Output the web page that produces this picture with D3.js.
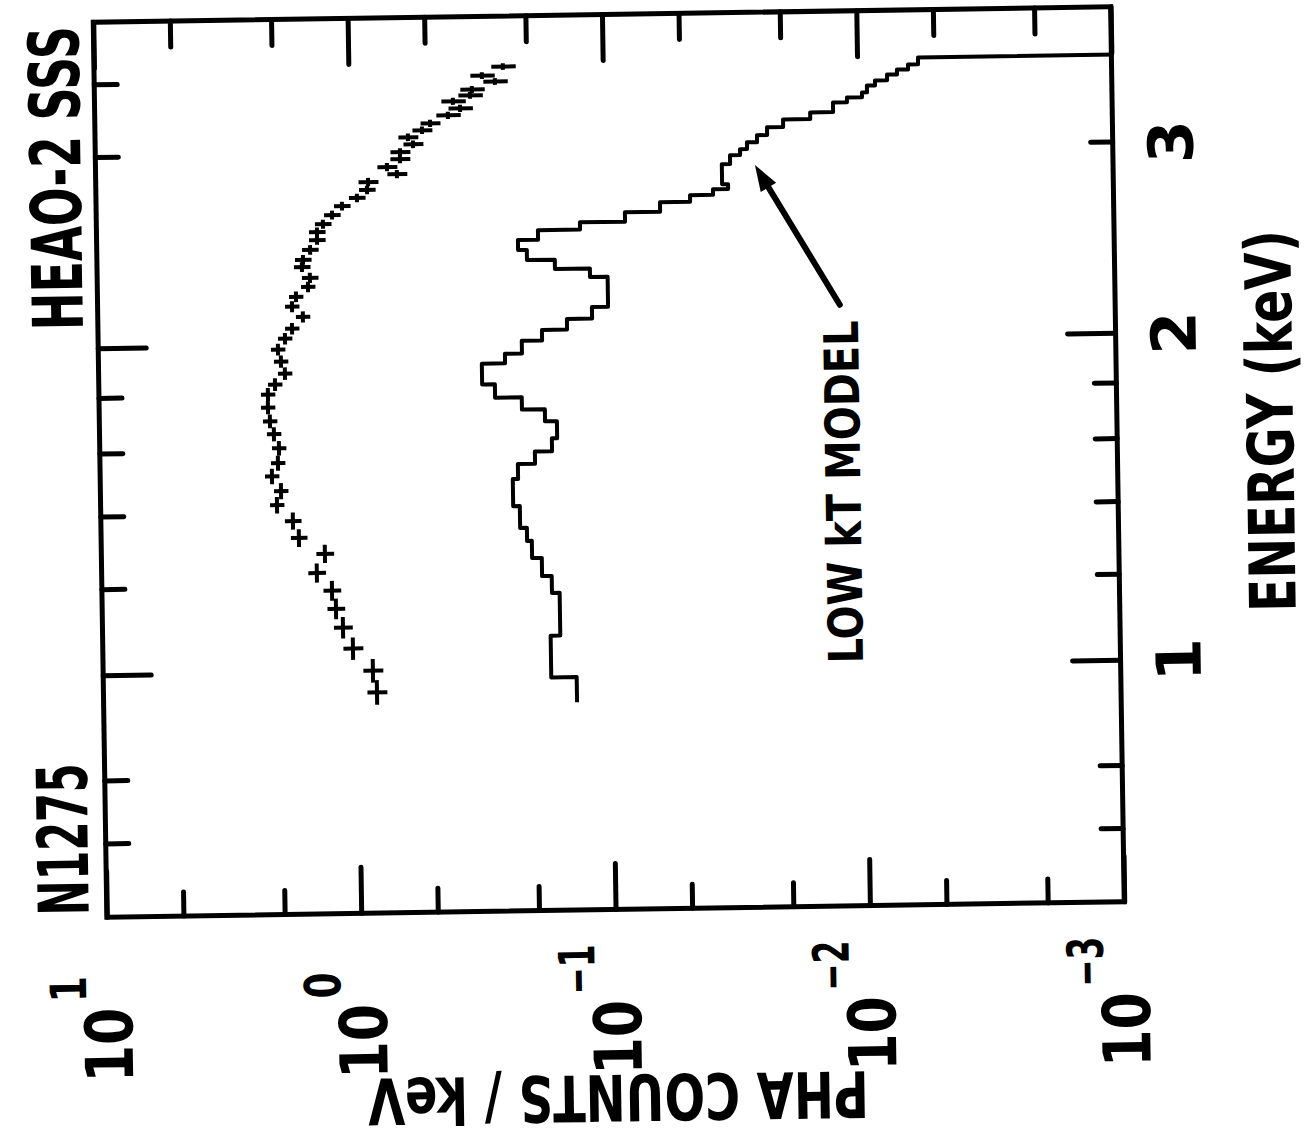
<!DOCTYPE html>
<html>
<head>
<meta charset="utf-8">
<title>N1275 HEAO-2 SSS</title>
<script src="https://cdnjs.cloudflare.com/ajax/libs/d3/7.8.5/d3.min.js"></script>
<style>
  body { margin: 0; background: #fff; }
  svg { display: block; background: #fff; }
  .axis .tick line { stroke: #000; stroke-width: 5; stroke-linecap: round; }
  .axis path.domain { display: none; }
  text.lbl { font-family: "DejaVu Sans", sans-serif; font-weight: bold; fill: #000; }
</style>
</head>
<body>
<svg width="1313" height="1141"></svg>
<script>
// measured spectrum: energy (keV), PHA counts / keV, fractional error on counts
const dataEnergy = [0.958, 1.003, 1.052, 1.100, 1.145, 1.190, 1.236, 1.287, 1.332, 1.381,
  1.429, 1.472, 1.519, 1.562, 1.612, 1.661, 1.707, 1.758, 1.807, 1.845,
  1.888, 1.937, 1.987, 2.033, 2.076, 2.128, 2.175, 2.221, 2.267, 2.311,
  2.365, 2.401, 2.452, 2.503, 2.546, 2.588, 2.638, 2.688, 2.733, 2.779,
  2.826, 2.871, 2.915, 2.963, 3.008, 3.057, 3.103, 3.148, 3.194, 3.247,
  3.294, 3.344, 3.385, 3.427, 3.483, 3.528, 3.594];
const dataCounts = [0.841, 0.870, 1.039, 1.134, 1.205, 1.246, 1.426, 1.322, 1.669, 1.758,
  2.026, 1.950, 2.112, 1.997, 1.975, 2.063, 2.135, 2.170, 2.166, 2.029,
  1.852, 1.917, 1.966, 1.842, 1.726, 1.562, 1.721, 1.658, 1.485, 1.458,
  1.565, 1.548, 1.450, 1.360, 1.359, 1.286, 1.183, 1.080, 0.942, 0.859,
  0.850, 0.654, 0.715, 0.635, 0.634, 0.563, 0.589, 0.518, 0.481, 0.409,
  0.366, 0.390, 0.334, 0.328, 0.266, 0.299, 0.247];
const dataErr = [0.09, 0.09, 0.09, 0.085, 0.08, 0.08, 0.08, 0.08, 0.075, 0.075,
  0.065, 0.065, 0.065, 0.065, 0.065, 0.065, 0.065, 0.065, 0.065, 0.065,
  0.065, 0.065, 0.065, 0.065, 0.065, 0.065, 0.065, 0.065, 0.065, 0.075,
  0.075, 0.075, 0.075, 0.075, 0.075, 0.075, 0.075, 0.075, 0.075, 0.075,
  0.09, 0.09, 0.09, 0.09, 0.09, 0.09, 0.09, 0.09, 0.09, 0.11,
  0.11, 0.11, 0.11, 0.11, 0.11, 0.11, 0.11];
const binHalf = 0.025; // half channel width, keV

// low kT model histogram: bin edges (keV) and counts / keV per bin
const modelEdges = [0.932, 0.983, 1.074, 1.176, 1.219, 1.267, 1.314, 1.351, 1.415, 1.499,
  1.547, 1.588, 1.632, 1.692, 1.736, 1.782, 1.833, 1.916, 1.955, 2.009,
  2.054, 2.101, 2.153, 2.294, 2.336, 2.383, 2.435, 2.487, 2.538, 2.577,
  2.629, 2.682, 2.720, 2.753, 2.781, 2.902, 2.957, 2.994, 3.037, 3.082,
  3.133, 3.184, 3.229, 3.296, 3.329, 3.363, 3.412, 3.448, 3.490, 3.526,
  3.563, 3.615, 4.0];
const modelCounts = [0.1377, 0.1733, 0.1588, 0.1702, 0.1857, 0.2028, 0.2117, 0.2250, 0.2389, 0.2277,
  0.1949, 0.1668, 0.1590, 0.1770, 0.2178, 0.2773, 0.3112, 0.2522, 0.2161, 0.1798,
  0.1432, 0.1140, 0.0985, 0.1155, 0.1585, 0.2039, 0.2207, 0.1839, 0.1256, 0.0835,
  0.0607, 0.0462, 0.0375, 0.0327, 0.0345, 0.0320, 0.0292, 0.0274, 0.0250, 0.0228,
  0.0197, 0.0154, 0.01251, 0.01102, 0.00961, 0.00918, 0.00853, 0.00764, 0.00698, 0.00631,
  0.00576, 0.0001];

// ticks and labels
const energyMajor = [1, 2];
const energyMinor = [0.7, 0.8, 1.2, 1.4, 1.6, 1.8, 3];
const energyMinorTop = [0.7, 0.8, 1.2, 1.4, 1.6, 1.8, 3, 3.5];
const energyLabels = ["1", "2", "3"];
const countMajor = [10, 1, 0.1, 0.01, 0.001];
const countMinor = [5, 2, 0.5, 0.2, 0.05, 0.02, 0.005, 0.002];
const countExp = ["1", "0", "\u22121", "\u22122", "\u22123"];

// arrow pointing at the model: [energy, counts] of tail and tip
const arrowTail = [2.146, 0.01209];
const arrowTip = [2.893, 0.02557];

const H = 1141;
const svg = d3.select("svg");

// the page is the plot turned a quarter turn, and scanned a little askew
const page = svg.append("g").attr("transform", "rotate(-0.87,609,462)");
const g = page.append("g").attr("transform", `translate(0,${H}) rotate(-90)`);

const x = d3.scaleLog().domain([0.6, 4]).range([231.5, 1126.5]);
const y = d3.scaleLog().domain([10, 0.001]).range([100, 1117.5]);
const [x0, x1] = x.range();
const [y0, y1] = y.range();

// plotter lettering is narrow: squeeze each label to its measured length
function label(txt, o) {
  const t = g.append("text").attr("class", "lbl")
    .attr("font-size", o.size).attr("text-anchor", o.anchor || "start").text(txt);
  const s = o.len ? o.len / t.node().getComputedTextLength() : 1;
  t.attr("transform", `translate(${o.x},${o.y})${o.rot ? ` rotate(${o.rot})` : ""} scale(${s},1)`);
  return t;
}

g.append("clipPath").attr("id", "plotClip")
  .append("rect").attr("x", x0).attr("y", y0).attr("width", x1 - x0).attr("height", y1 - y0);

function ticks(axis, vals, len, tr) {
  g.append("g").attr("class", "axis").attr("transform", tr)
    .call(axis.tickValues(vals).tickSize(-len).tickFormat(""));
}
ticks(d3.axisBottom(x), energyMajor, 48, `translate(0,${y1})`);
ticks(d3.axisBottom(x), energyMinor, 22, `translate(0,${y1})`);
ticks(d3.axisTop(x), energyMajor, 48, `translate(0,${y0})`);
ticks(d3.axisTop(x), energyMinorTop, 23, `translate(0,${y0})`);
ticks(d3.axisLeft(y), countMajor, 46, `translate(${x0},0)`);
ticks(d3.axisLeft(y), countMinor, 24, `translate(${x0},0)`);
ticks(d3.axisRight(y), countMajor, 46, `translate(${x1},0)`);
ticks(d3.axisRight(y), countMinor, 26, `translate(${x1},0)`);

g.append("rect")
  .attr("x", x0).attr("y", y0).attr("width", x1 - x0).attr("height", y1 - y0)
  .attr("fill", "none").attr("stroke", "#000").attr("stroke-width", 5);

// model histogram
const stepPts = modelCounts.map((c, i) => [modelEdges[i], c]);
stepPts.push([modelEdges[modelEdges.length - 1], modelCounts[modelCounts.length - 1]]);
const stepLine = d3.line().x(d => x(d[0])).y(d => y(d[1])).curve(d3.curveStepAfter);
g.append("path")
  .attr("clip-path", "url(#plotClip)")
  .attr("d", stepLine(stepPts))
  .attr("fill", "none").attr("stroke", "#000").attr("stroke-width", 4)
  .attr("stroke-linejoin", "round");

// data crosses
const pts = dataEnergy.map((e, i) => ({ e, c: dataCounts[i], f: dataErr[i] }));
const cross = g.append("g").attr("stroke", "#000").attr("stroke-width", 4);
cross.selectAll("line.eb").data(pts).join("line").attr("class", "eb")
  .attr("x1", d => x(d.e - binHalf)).attr("x2", d => x(d.e + binHalf))
  .attr("y1", d => y(d.c)).attr("y2", d => y(d.c));
cross.selectAll("line.cb").data(pts).join("line").attr("class", "cb")
  .attr("x1", d => x(d.e)).attr("x2", d => x(d.e))
  .attr("y1", d => y(d.c * (1 + d.f))).attr("y2", d => y(d.c * (1 - d.f)));

// energy tick labels (below the original x axis)
energyLabels.forEach(d =>
  label(d, { x: x(+d), y: y1 + 80, size: 62, anchor: "middle" }));
label("ENERGY (keV)", { x: 519, y: y1 + 176, size: 64, len: 382 });

// count tick labels 10^n
countMajor.forEach((v, i) => {
  label("10", { x: 141, y: y(v) + 24, size: 66, anchor: "end", len: 75 });
  label(countExp[i], { x: 147, y: y(v) - 22, size: 50, len: countExp[i].length > 1 ? 50 : 26 });
});
label("PHA COUNTS / keV", { x: 66, y: (y0 + y1) / 2, size: 64, anchor: "middle", len: 501, rot: -90 });

// titles above the plot
label("N1275", { x: 234, y: 82, size: 70, len: 152 });
label("HEAO-2 SSS", { x: 819, y: 85, size: 70, len: 304 });

// model annotation and arrow
label("LOW kT MODEL", { x: 474, y: 860, size: 48, len: 343 });

const p0 = [x(arrowTail[0]), y(arrowTail[1])];
const p1 = [x(arrowTip[0]), y(arrowTip[1])];
const len = Math.hypot(p1[0] - p0[0], p1[1] - p0[1]);
const u = [(p1[0] - p0[0]) / len, (p1[1] - p0[1]) / len];
const headL = 26, headW = 9;
const base = [p1[0] - u[0] * headL, p1[1] - u[1] * headL];
g.append("line")
  .attr("x1", p0[0]).attr("y1", p0[1])
  .attr("x2", base[0] + u[0] * 4).attr("y2", base[1] + u[1] * 4)
  .attr("stroke", "#000").attr("stroke-width", 6).attr("stroke-linecap", "round");
g.append("path")
  .attr("d", `M${p1[0]},${p1[1]}L${base[0] - u[1] * headW},${base[1] + u[0] * headW}` +
    `L${base[0] + u[1] * headW},${base[1] - u[0] * headW}Z`)
  .attr("fill", "#000");
</script>
</body>
</html>
